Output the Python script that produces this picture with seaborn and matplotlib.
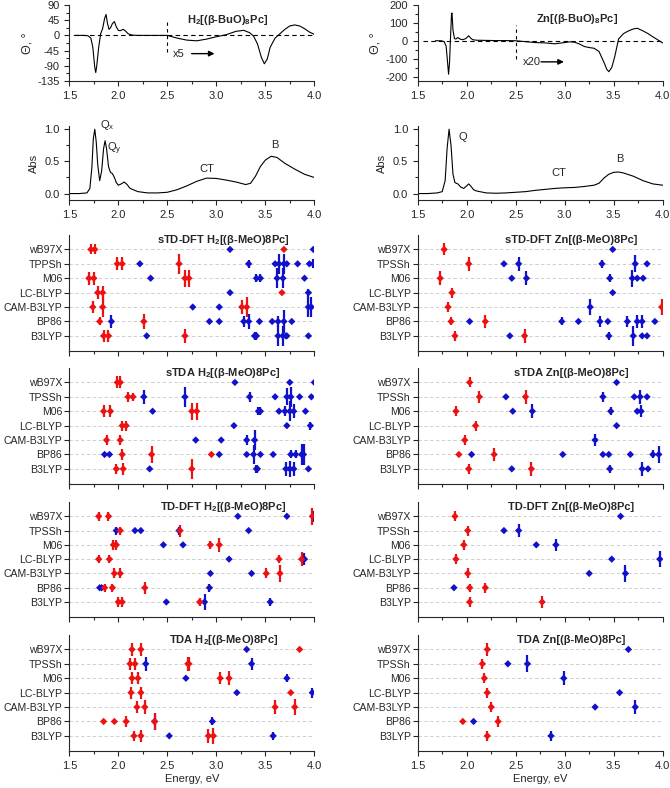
import pandas as pd
import seaborn as sns
import matplotlib.pyplot as plt
import matplotlib.ticker as mticker

# ---------------- spectra ----------------
cd_h2_E = [1.55, 1.65, 1.69, 1.72, 1.74, 1.76, 1.77, 1.78, 1.80, 1.82, 1.84, 1.86, 1.875, 1.89,
           1.905, 1.92, 1.94, 1.96, 1.98, 2.00, 2.02, 2.05, 2.07, 2.10, 2.14, 2.20, 2.30, 2.40,
           2.50, 2.60, 2.70, 2.80, 2.90, 3.00, 3.10, 3.20, 3.28, 3.34, 3.38, 3.42, 3.46, 3.49,
           3.52, 3.55, 3.60, 3.65, 3.70, 3.75, 3.80, 3.85, 3.90, 3.95, 4.00]
cd_h2_val = [0, 0, -1, -8, -35, -95, -110, -90, -35, 5, 20, 50, 62, 35,
             18, 22, 35, 41, 25, 15, 14, 18, 14, 5, 1, 0, 0, 0,
             0, -8, -14, -16, -11, -4, 2, 12, 15, 8, -2, -25, -65, -84,
             -70, -35, -8, 5, 18, 28, 31, 28, 20, 10, 3]

cd_zn_E = [1.68, 1.74, 1.77, 1.79, 1.80, 1.815, 1.825, 1.835, 1.845, 1.85, 1.86, 1.875, 1.89,
           1.91, 1.925, 1.94, 1.96, 1.99, 2.02, 2.04, 2.06, 2.10, 2.20, 2.30, 2.40, 2.50, 2.60,
           2.70, 2.80, 2.90, 3.00, 3.05, 3.10, 3.15, 3.20, 3.25, 3.30, 3.35, 3.40, 3.43, 3.45,
           3.48, 3.51, 3.55, 3.60, 3.65, 3.70, 3.74, 3.80, 3.85, 3.90, 3.95, 4.00]
cd_zn_val = [0, 0, -5, -30, -90, -187, -120, 20, 150, 155, 60, 12, 10,
             18, 12, 8, 6, 12, 28, 15, 6, 3, 2, 1, 1, 0, -5,
             -10, -12, -17, -10, -6, -8, -18, -32, -38, -42, -60, -120, -160, -173,
             -150, -90, 10, 40, 55, 66, 70, 55, 40, 22, 5, -12]

abs_h2_E = [1.50, 1.60, 1.68, 1.71, 1.73, 1.745, 1.76, 1.775, 1.79, 1.81, 1.83, 1.85, 1.865,
            1.88, 1.90, 1.92, 1.94, 1.96, 1.98, 2.00, 2.03, 2.06, 2.09, 2.12, 2.20, 2.30, 2.40,
            2.50, 2.60, 2.70, 2.80, 2.90, 3.00, 3.10, 3.20, 3.30, 3.35, 3.40, 3.45, 3.50, 3.56,
            3.62, 3.70, 3.80, 3.90, 4.00]
abs_h2_val = [0.0, 0.0, 0.01, 0.08, 0.4, 0.85, 1.0, 0.8, 0.45, 0.2, 0.35, 0.7, 0.82,
              0.7, 0.42, 0.33, 0.31, 0.25, 0.17, 0.13, 0.15, 0.18, 0.14, 0.08, 0.03, 0.01, 0.01,
              0.02, 0.06, 0.12, 0.19, 0.24, 0.235, 0.21, 0.18, 0.14, 0.16, 0.27, 0.42, 0.52, 0.58,
              0.56, 0.47, 0.38, 0.3, 0.25]

abs_zn_E = [1.50, 1.60, 1.70, 1.75, 1.78, 1.80, 1.82, 1.84, 1.86, 1.88, 1.91, 1.94, 1.97,
            2.00, 2.02, 2.04, 2.07, 2.10, 2.20, 2.30, 2.40, 2.50, 2.60, 2.70, 2.80, 2.90,
            3.00, 3.10, 3.20, 3.30, 3.35, 3.40, 3.45, 3.50, 3.55, 3.60, 3.70, 3.80, 3.90, 4.00]
abs_zn_val = [0.0, 0.0, 0.01, 0.03, 0.2, 0.7, 1.0, 0.75, 0.3, 0.17, 0.15, 0.1, 0.08,
              0.12, 0.15, 0.12, 0.06, 0.04, 0.01, 0.005, 0.01, 0.02, 0.03, 0.05, 0.065, 0.08,
              0.09, 0.095, 0.11, 0.13, 0.16, 0.24, 0.3, 0.33, 0.335, 0.32, 0.27, 0.2, 0.15, 0.13]

# ---------------- calculated transitions ----------------
functionals = ["wB97X", "TPSSh", "M06", "LC-BLYP", "CAM-B3LYP", "BP86", "B3LYP"]

# (functional, energy eV, r = x/y-like, b = other, half bar height)
stddft_h2 = [
    ("wB97X", 1.72, "r", .35), ("wB97X", 1.76, "r", .35), ("wB97X", 3.14, "b", 0), ("wB97X", 3.69, "r", 0), ("wB97X", 3.99, "b", 0),
    ("TPSSh", 1.99, "r", .45), ("TPSSh", 2.04, "r", .45), ("TPSSh", 2.22, "b", .1), ("TPSSh", 2.62, "r", .7), ("TPSSh", 3.33, "b", .28),
    ("TPSSh", 3.60, "b", .1), ("TPSSh", 3.64, "b", .7), ("TPSSh", 3.69, "b", .7), ("TPSSh", 3.72, "b", .1), ("TPSSh", 3.83, "b", 0),
    ("TPSSh", 3.95, "b", 0), ("TPSSh", 3.99, "b", .3),
    ("M06", 1.70, "r", .45), ("M06", 1.75, "r", .45), ("M06", 2.33, "b", 0), ("M06", 2.68, "r", .58), ("M06", 2.72, "r", .58),
    ("M06", 3.41, "b", .28), ("M06", 3.45, "b", .28), ("M06", 3.62, "b", .7), ("M06", 3.68, "b", .7), ("M06", 3.90, "b", .1),
    ("LC-BLYP", 1.79, "r", .45), ("LC-BLYP", 1.84, "r", .45), ("LC-BLYP", 3.14, "b", 0), ("LC-BLYP", 3.67, "r", 0), ("LC-BLYP", 3.94, "b", .28),
    ("CAM-B3LYP", 1.74, "r", .42), ("CAM-B3LYP", 1.84, "r", .7), ("CAM-B3LYP", 2.76, "b", 0), ("CAM-B3LYP", 3.03, "b", 0),
    ("CAM-B3LYP", 3.26, "r", .47), ("CAM-B3LYP", 3.31, "r", .7), ("CAM-B3LYP", 3.94, "b", .7), ("CAM-B3LYP", 3.97, "b", .7),
    ("BP86", 1.81, "r", .28), ("BP86", 1.93, "b", .42), ("BP86", 2.26, "r", .5), ("BP86", 2.93, "b", .1), ("BP86", 3.03, "b", 0),
    ("BP86", 3.28, "b", .35), ("BP86", 3.33, "b", .5), ("BP86", 3.44, "b", 0), ("BP86", 3.57, "b", 0), ("BP86", 3.63, "b", .35),
    ("BP86", 3.69, "b", .8), ("BP86", 3.77, "b", 0),
    ("B3LYP", 1.85, "r", .42), ("B3LYP", 1.90, "r", .42), ("B3LYP", 2.29, "b", 0), ("B3LYP", 2.68, "r", .5), ("B3LYP", 3.39, "b", .28),
    ("B3LYP", 3.41, "b", .28), ("B3LYP", 3.63, "b", .7), ("B3LYP", 3.68, "b", .7), ("B3LYP", 3.71, "b", 0), ("B3LYP", 3.72, "b", 0),
    ("B3LYP", 3.94, "b", 0),
]

stddft_zn = [
    ("wB97X", 1.77, "r", .42), ("wB97X", 3.49, "b", 0),
    ("TPSSh", 2.02, "r", .47), ("TPSSh", 2.38, "b", 0), ("TPSSh", 2.53, "b", .47), ("TPSSh", 3.38, "b", .28), ("TPSSh", 3.72, "b", .58),
    ("TPSSh", 3.84, "b", 0),
    ("M06", 1.73, "r", .47), ("M06", 2.46, "b", 0), ("M06", 2.61, "b", .47), ("M06", 3.46, "b", .28), ("M06", 3.69, "b", .58),
    ("M06", 3.74, "b", 0), ("M06", 3.80, "b", 0),
    ("LC-BLYP", 1.85, "r", .35), ("LC-BLYP", 3.49, "b", .1),
    ("CAM-B3LYP", 1.81, "r", .35), ("CAM-B3LYP", 3.26, "b", .58), ("CAM-B3LYP", 3.99, "r", .58),
    ("BP86", 1.84, "r", .28), ("BP86", 2.03, "b", 0), ("BP86", 2.19, "r", .47), ("BP86", 2.97, "b", .28), ("BP86", 3.14, "b", 0),
    ("BP86", 3.36, "b", .35), ("BP86", 3.44, "b", 0), ("BP86", 3.64, "b", .35), ("BP86", 3.74, "b", .42), ("BP86", 3.79, "b", .42),
    ("BP86", 3.92, "b", 0),
    ("B3LYP", 1.88, "r", .35), ("B3LYP", 2.44, "b", 0), ("B3LYP", 2.59, "r", .47), ("B3LYP", 3.45, "b", .28), ("B3LYP", 3.70, "b", .7),
    ("B3LYP", 3.79, "b", 0), ("B3LYP", 3.84, "b", 0),
]

stda_h2 = [
    ("wB97X", 1.99, "r", .42), ("wB97X", 2.02, "r", .42), ("wB97X", 3.19, "b", 0), ("wB97X", 3.75, "b", 0), ("wB97X", 4.00, "b", .2),
    ("TPSSh", 2.10, "r", .35), ("TPSSh", 2.15, "r", .28), ("TPSSh", 2.26, "b", .5), ("TPSSh", 2.68, "b", .7), ("TPSSh", 3.34, "b", .35),
    ("TPSSh", 3.60, "b", 0), ("TPSSh", 3.72, "b", .58), ("TPSSh", 3.76, "b", .7), ("TPSSh", 3.85, "b", 0), ("TPSSh", 3.97, "b", 0),
    ("M06", 1.85, "r", .42), ("M06", 1.92, "r", .42), ("M06", 2.35, "b", 0), ("M06", 2.75, "r", .58), ("M06", 2.80, "r", .58),
    ("M06", 3.43, "b", .28), ("M06", 3.45, "b", .28), ("M06", 3.64, "b", 0), ("M06", 3.70, "b", .35), ("M06", 3.75, "b", .7),
    ("M06", 3.79, "b", .47), ("M06", 3.91, "b", 0),
    ("LC-BLYP", 2.04, "r", .35), ("LC-BLYP", 2.08, "r", .35), ("LC-BLYP", 3.18, "b", 0), ("LC-BLYP", 3.72, "b", 0), ("LC-BLYP", 3.96, "b", .28),
    ("CAM-B3LYP", 1.88, "r", .35), ("CAM-B3LYP", 2.02, "r", .35), ("CAM-B3LYP", 2.79, "b", 0), ("CAM-B3LYP", 3.05, "b", 0),
    ("CAM-B3LYP", 3.31, "b", .35), ("CAM-B3LYP", 3.39, "b", .7),
    ("BP86", 1.86, "b", 0), ("BP86", 1.91, "b", 0), ("BP86", 2.04, "r", .35), ("BP86", 2.34, "r", .58), ("BP86", 2.95, "r", .1),
    ("BP86", 3.03, "b", 0), ("BP86", 3.31, "b", 0), ("BP86", 3.38, "b", .65), ("BP86", 3.45, "b", 0), ("BP86", 3.58, "b", 0),
    ("BP86", 3.76, "b", .28), ("BP86", 3.81, "b", .28), ("BP86", 3.87, "b", .7), ("BP86", 3.89, "b", .7),
    ("B3LYP", 1.98, "r", .35), ("B3LYP", 2.05, "r", .42), ("B3LYP", 2.32, "b", 0), ("B3LYP", 2.75, "r", .7), ("B3LYP", 3.41, "b", .28),
    ("B3LYP", 3.42, "b", .28), ("B3LYP", 3.71, "b", .47), ("B3LYP", 3.75, "b", .58), ("B3LYP", 3.79, "b", .47), ("B3LYP", 3.94, "b", 0),
]

stda_zn = [
    ("wB97X", 2.03, "r", .35), ("wB97X", 3.53, "b", 0),
    ("TPSSh", 2.13, "r", .42), ("TPSSh", 2.40, "b", 0), ("TPSSh", 2.60, "r", .5), ("TPSSh", 3.39, "b", .35), ("TPSSh", 3.71, "b", 0),
    ("TPSSh", 3.77, "b", .5), ("TPSSh", 3.84, "b", 0),
    ("M06", 1.89, "r", .35), ("M06", 2.47, "b", 0), ("M06", 2.67, "b", .47), ("M06", 3.47, "b", .28), ("M06", 3.74, "b", 0),
    ("M06", 3.78, "b", .42),
    ("LC-BLYP", 2.09, "r", .35), ("LC-BLYP", 3.53, "b", 0),
    ("CAM-B3LYP", 1.98, "r", .35), ("CAM-B3LYP", 3.31, "b", .42),
    ("BP86", 1.92, "r", 0), ("BP86", 2.05, "b", 0), ("BP86", 2.28, "r", .42), ("BP86", 2.98, "b", 0), ("BP86", 3.39, "b", 0),
    ("BP86", 3.45, "b", 0), ("BP86", 3.67, "b", 0), ("BP86", 3.90, "b", .28), ("BP86", 3.96, "b", .58),
    ("B3LYP", 2.02, "r", .35), ("B3LYP", 2.46, "b", 0), ("B3LYP", 2.66, "r", .47), ("B3LYP", 3.46, "b", .28), ("B3LYP", 3.79, "b", .47),
    ("B3LYP", 3.85, "b", 0),
]

tddft_h2 = [
    ("wB97X", 1.80, "r", .3), ("wB97X", 1.90, "r", .3), ("wB97X", 3.22, "b", 0), ("wB97X", 3.72, "b", 0), ("wB97X", 4.00, "b", .4),
    ("wB97X", 3.98, "r", .58),
    ("TPSSh", 1.98, "b", .28), ("TPSSh", 2.02, "r", .28), ("TPSSh", 2.17, "b", 0), ("TPSSh", 2.23, "b", 0), ("TPSSh", 2.62, "b", .28),
    ("TPSSh", 2.63, "r", .42), ("TPSSh", 3.33, "b", 0),
    ("M06", 1.95, "r", .35), ("M06", 1.98, "r", .35), ("M06", 2.46, "b", 0), ("M06", 2.66, "b", 0), ("M06", 2.94, "r", .3),
    ("M06", 3.03, "r", .5),
    ("LC-BLYP", 1.80, "r", .3), ("LC-BLYP", 1.91, "r", .3), ("LC-BLYP", 3.13, "b", 0), ("LC-BLYP", 3.64, "r", .28),
    ("LC-BLYP", 3.90, "b", .42), ("LC-BLYP", 3.87, "r", .5),
    ("CAM-B3LYP", 1.96, "r", .35), ("CAM-B3LYP", 2.02, "r", .35), ("CAM-B3LYP", 2.94, "b", 0), ("CAM-B3LYP", 3.36, "b", 0),
    ("CAM-B3LYP", 3.51, "r", .35), ("CAM-B3LYP", 3.65, "r", .58),
    ("BP86", 1.81, "b", 0), ("BP86", 1.83, "b", 0), ("BP86", 1.86, "r", .28), ("BP86", 1.94, "r", .28), ("BP86", 2.27, "r", .42),
    ("BP86", 2.93, "b", .28),
    ("B3LYP", 2.00, "r", .35), ("B3LYP", 2.04, "r", .35), ("B3LYP", 2.49, "b", 0), ("B3LYP", 2.83, "r", .28), ("B3LYP", 2.88, "b", .58),
    ("B3LYP", 3.55, "b", .28),
]

tddft_zn = [
    ("wB97X", 1.88, "r", .35), ("wB97X", 3.57, "b", 0),
    ("TPSSh", 2.01, "r", .35), ("TPSSh", 2.38, "b", 0), ("TPSSh", 2.53, "b", .47),
    ("M06", 1.97, "r", .35), ("M06", 2.71, "b", 0), ("M06", 2.91, "b", .42),
    ("LC-BLYP", 1.89, "r", .35), ("LC-BLYP", 3.48, "b", 0), ("LC-BLYP", 3.97, "b", .58),
    ("CAM-B3LYP", 2.01, "r", .35), ("CAM-B3LYP", 3.25, "b", 0), ("CAM-B3LYP", 3.62, "b", .58),
    ("BP86", 1.87, "b", 0), ("BP86", 2.03, "r", .28), ("BP86", 2.19, "r", .35),
    ("B3LYP", 2.03, "r", .35), ("B3LYP", 2.77, "r", .42),
]

tda_h2 = [
    ("wB97X", 2.14, "r", .47), ("wB97X", 2.23, "r", .47), ("wB97X", 3.31, "b", 0), ("wB97X", 3.85, "r", 0),
    ("TPSSh", 2.12, "r", .42), ("TPSSh", 2.17, "r", .42), ("TPSSh", 2.28, "b", .47), ("TPSSh", 2.71, "r", .5), ("TPSSh", 2.72, "r", .5),
    ("TPSSh", 3.36, "b", .42),
    ("M06", 2.14, "r", .42), ("M06", 2.20, "r", .42), ("M06", 2.69, "b", 0), ("M06", 3.04, "r", .42), ("M06", 3.13, "r", .5),
    ("M06", 3.72, "b", .28),
    ("LC-BLYP", 2.13, "r", .42), ("LC-BLYP", 2.23, "r", .42), ("LC-BLYP", 3.21, "b", 0), ("LC-BLYP", 3.76, "r", 0), ("LC-BLYP", 3.98, "b", .35),
    ("CAM-B3LYP", 2.19, "r", .42), ("CAM-B3LYP", 2.27, "r", .5), ("CAM-B3LYP", 3.60, "r", .47), ("CAM-B3LYP", 3.80, "r", .58),
    ("BP86", 1.85, "r", 0), ("BP86", 1.96, "r", 0), ("BP86", 2.08, "r", .35), ("BP86", 2.37, "b", .58), ("BP86", 2.37, "r", .58),
    ("BP86", 2.96, "b", .28),
    ("B3LYP", 2.16, "r", .35), ("B3LYP", 2.23, "r", .42), ("B3LYP", 2.52, "b", 0), ("B3LYP", 2.92, "r", .47), ("B3LYP", 2.97, "r", .58),
    ("B3LYP", 3.58, "b", .28),
]

tda_zn = [
    ("wB97X", 2.21, "r", .47), ("wB97X", 3.65, "b", 0),
    ("TPSSh", 2.16, "r", .35), ("TPSSh", 2.42, "b", 0), ("TPSSh", 2.62, "b", .58),
    ("M06", 2.18, "r", .35), ("M06", 2.99, "b", .47),
    ("LC-BLYP", 2.21, "r", .35), ("LC-BLYP", 3.56, "b", 0),
    ("CAM-B3LYP", 2.25, "r", .35), ("CAM-B3LYP", 3.31, "b", 0), ("CAM-B3LYP", 3.72, "b", .5),
    ("BP86", 1.96, "r", 0), ("BP86", 2.07, "b", 0), ("BP86", 2.32, "r", .35),
    ("B3LYP", 2.21, "r", .35), ("B3LYP", 2.86, "b", .35),
]

# ---------------- style ----------------
sns.set_style("ticks")
plt.rcParams["font.family"] = ["Liberation Sans", "DejaVu Sans"]
plt.rcParams["font.size"] = 8
plt.rcParams["axes.unicode_minus"] = False
plt.rcParams["mathtext.fontset"] = "custom"
plt.rcParams["mathtext.rm"] = "Liberation Sans"
plt.rcParams["mathtext.bf"] = "Liberation Sans:bold"
plt.rcParams["mathtext.it"] = "Liberation Sans:italic"

RED = "#ee1111"
BLUE = "#1111cc"
pal = {"r": RED, "b": BLUE}
ypos = {f: 6 - i for i, f in enumerate(functionals)}

fig = plt.figure(figsize=(6.7, 7.88), dpi=100)
H = 788.0
cols = [69.3 / 670, 417.7 / 670]
W = 245 / 670


def add_ax(col, top, bottom):
    return fig.add_axes([cols[col], 1 - bottom / H, W, (bottom - top) / H])


def style_x(ax, labels=True):
    ax.set_xlim(1.5, 4.0)
    ax.xaxis.set_major_locator(mticker.MultipleLocator(0.5))
    ax.xaxis.set_minor_locator(mticker.MultipleLocator(0.25))
    ax.xaxis.set_major_formatter(mticker.FormatStrFormatter("%.1f"))
    ax.tick_params(which="both", direction="out", length=3.5, width=0.8, labelsize=8)
    ax.tick_params(which="minor", length=2)
    ax.tick_params(axis="x", labelbottom=labels)
    ax.set_xlabel("")
    ax.set_ylabel("")
    sns.despine(ax=ax)
    for s in ax.spines.values():
        s.set_linewidth(0.8)


def cd_panel(ax, E, val, ylim, step, title, tx, ty, split_top, split_bot, factor, fx, fy):
    ax.axhline(0, xmin=0.02, color="k", lw=0.8, ls=(0, (4, 3)))
    sns.lineplot(x=E, y=val, ax=ax, color="k", lw=0.8)
    ax.plot([2.5, 2.5], [split_bot, split_top], color="k", lw=0.8, ls=(0, (3, 3)))
    ax.text(fx, fy, factor, ha="left", va="center", fontsize=8)
    ax.annotate("", xy=(fx + 0.45, fy), xytext=(fx + 0.16, fy),
                arrowprops=dict(arrowstyle="-|>", color="k", lw=1.0, mutation_scale=8))
    ax.text(tx, ty, title, ha="center", va="center", fontweight="bold", fontsize=8)
    ax.set_ylim(*ylim)
    ax.yaxis.set_major_locator(mticker.MultipleLocator(step))
    ax.yaxis.set_minor_locator(mticker.MultipleLocator(step / 2))
    style_x(ax)
    ax.set_ylabel("Θ, °", fontsize=9, labelpad=3)


def abs_panel(ax, E, val, notes):
    sns.lineplot(x=E, y=val, ax=ax, color="k", lw=0.8)
    for txt, x, y, ha in notes:
        ax.text(x, y, txt, ha=ha, va="center", fontsize=8)
    ax.set_ylim(-0.1, 1.05)
    ax.yaxis.set_major_locator(mticker.MultipleLocator(0.5))
    ax.yaxis.set_minor_locator(mticker.MultipleLocator(0.25))
    ax.yaxis.set_major_formatter(mticker.FormatStrFormatter("%.1f"))
    style_x(ax)
    ax.set_ylabel("Abs", fontsize=8)


def calc_panel(ax, rows, title, labels=functionals, xlabels=False):
    df = pd.DataFrame(rows, columns=["func", "E", "kind", "h"])
    df["y"] = df["func"].map(ypos)
    df = df.sort_values("kind").reset_index(drop=True)  # blue first, red on top
    for k in ["b", "r"]:
        sub = df[(df["kind"] == k) & (df["h"] > 0)]
        ax.vlines(sub["E"], sub["y"] - sub["h"], sub["y"] + sub["h"], color=pal[k], lw=1.6)
    sns.scatterplot(data=df, x="E", y="y", hue="kind", palette=pal, marker="D", s=14,
                    linewidth=0, legend=False, ax=ax, zorder=3)
    ax.set_ylim(-1.05, 7)
    ax.set_yticks(range(7))
    ax.set_yticklabels(labels[::-1])
    ax.grid(axis="y", color="#c8c8c8", lw=0.6, ls=(0, (4, 3)))
    ax.text(3.07, 6.62, title, ha="center", va="center", fontweight="bold", fontsize=8)
    style_x(ax, xlabels)
    ax.tick_params(axis="y", labelsize=7.6, pad=1.5)
    if xlabels:
        ax.set_xlabel("Energy, eV", fontsize=8, labelpad=2)


# top spectra
ax = add_ax(0, 5, 81)
cd_panel(ax, cd_h2_E, cd_h2_val, (-135, 90), 45, r"H$_\mathbf{2}$[(β-BuO)$_\mathbf{8}$Pc]",
         3.12, 47, 39, -49, "x5", 2.56, -54)
ax = add_ax(1, 5, 81)
cd_panel(ax, cd_zn_E, cd_zn_val, (-225, 200), 100, r"Zn[(β-BuO)$_\mathbf{8}$Pc]",
         3.13, 119, 90, -104, "x20", 2.57, -118)

ax = add_ax(0, 126, 200)
abs_panel(ax, abs_h2_E, abs_h2_val,
          [(r"Q$_\mathregular{x}$", 1.81, 1.07, "left"), (r"Q$_\mathregular{y}$", 1.885, 0.7, "left"),
           ("CT", 2.9, 0.38, "center"), ("B", 3.6, 0.75, "center")])
ax = add_ax(1, 126, 200)
abs_panel(ax, abs_zn_E, abs_zn_val,
          [("Q", 1.92, 0.88, "left"), ("CT", 2.94, 0.32, "center"), ("B", 3.56, 0.53, "center")])

# calculated panels
labels_tpp = ["wB97X", "TPPSh", "M06", "LC-BLYP", "CAM-B3LYP", "BP86", "B3LYP"]
rows_px = [(235, 351), (368, 484), (502, 617), (635, 751)]
h2_sets = [(stddft_h2, "sTD-DFT"), (stda_h2, "sTDA"), (tddft_h2, "TD-DFT"), (tda_h2, "TDA")]
zn_sets = [(stddft_zn, "sTD-DFT"), (stda_zn, "sTDA"), (tddft_zn, "TD-DFT"), (tda_zn, "TDA")]

for i, ((top, bot), (h2, name), (zn, _)) in enumerate(zip(rows_px, h2_sets, zn_sets)):
    last = i == 3
    ax = add_ax(0, top, bot)
    calc_panel(ax, h2, name + r" H$_\mathbf{2}$[(β-MeO)8Pc]",
               labels=labels_tpp if i == 0 else functionals, xlabels=last)
    ax = add_ax(1, top, bot)
    calc_panel(ax, zn, name + " Zn[(β-MeO)8Pc]", xlabels=last)

fig.savefig("out.png", dpi=100)
